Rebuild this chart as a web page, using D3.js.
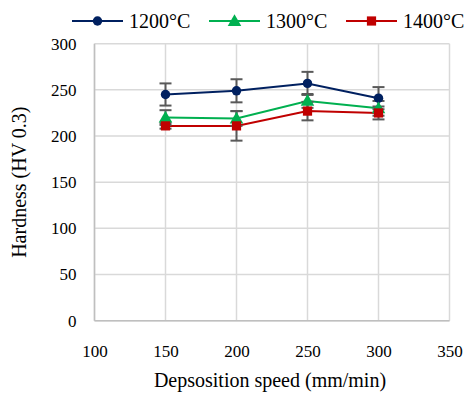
<!DOCTYPE html>
<html><head><meta charset="utf-8">
<script src="https://cdn.jsdelivr.net/npm/d3@7"></script>
<style>body{margin:0;background:#fff}svg{display:block}svg text{font-family:'Liberation Serif','Times New Roman',serif}</style>
</head><body>
<svg id="c" width="467" height="394"></svg>
<script>
const speeds = [150, 200, 250, 300];
const seriesNames = ["1200°C", "1300°C", "1400°C"];
const hv1200 = [245, 249, 257, 241];
const err1200 = [12, 12.5, 12.5, 12];
const hv1300 = [220, 219, 238, 230];
const err1300 = [8, 8, 7.5, 8];
const hv1400 = [211, 211, 227, 225];
const err1400 = [3, 16, 10, 7];
const xTicks = [100, 150, 200, 250, 300, 350];
const yTicks = [0, 50, 100, 150, 200, 250, 300];

const colors = ["#002060", "#00B050", "#C00000"];
const shapes = [d3.symbolCircle, d3.symbolTriangle, d3.symbolSquare];
const sizes = [70, 80, 85];
const series = [
  {name: seriesNames[0], v: hv1200, e: err1200},
  {name: seriesNames[1], v: hv1300, e: err1300},
  {name: seriesNames[2], v: hv1400, e: err1400}
];

const svg = d3.select("#c");
const font = "'Liberation Serif','Times New Roman',serif";
const x = d3.scaleLinear().domain([100, 350]).range([94.5, 449.5]);
const y = d3.scaleLinear().domain([0, 300]).range([320.7, 43.7]);

// gridlines
svg.append("g").selectAll("line").data(yTicks).join("line")
  .attr("x1", x(100)).attr("x2", x(350)).attr("y1", d => y(d)).attr("y2", d => y(d))
  .attr("stroke", "#d9d9d9").attr("stroke-width", 1.5);
svg.append("g").selectAll("line").data(xTicks).join("line")
  .attr("y1", y(0)).attr("y2", y(300)).attr("x1", d => x(d)).attr("x2", d => x(d))
  .attr("stroke", "#d9d9d9").attr("stroke-width", 1.5);
// axis lines
svg.append("line").attr("x1", x(100)).attr("x2", x(350)).attr("y1", y(0)).attr("y2", y(0))
  .attr("stroke", "#bfbfbf").attr("stroke-width", 1.5);
svg.append("line").attr("x1", x(100)).attr("x2", x(100)).attr("y1", y(0)).attr("y2", y(300))
  .attr("stroke", "#bfbfbf").attr("stroke-width", 1.5);

// axes (labels only)
const xAxis = svg.append("g").attr("transform", `translate(0,${y(0)})`)
  .call(d3.axisBottom(x).tickValues(xTicks).tickSize(0).tickPadding(24));
xAxis.attr("font-family", null).attr("font-size", null);
xAxis.select(".domain").remove();
xAxis.selectAll("text").style("font-family", font).style("font-size", "17px").attr("fill", "#000");
const yAxis = svg.append("g").attr("transform", `translate(${x(100)},0)`)
  .call(d3.axisLeft(y).tickValues(yTicks).tickSize(0).tickPadding(18));
yAxis.attr("font-family", null).attr("font-size", null);
yAxis.select(".domain").remove();
yAxis.selectAll("text").style("font-family", font).style("font-size", "17px").attr("fill", "#000");

// titles
svg.append("text").attr("x", 270).attr("y", 387).attr("text-anchor", "middle")
  .style("font-family", font).style("font-size", "20px").text("Depsosition speed (mm/min)");
svg.append("text").attr("transform", `translate(26,${y(150)}) rotate(-90)`).attr("text-anchor", "middle")
  .style("font-family", font).style("font-size", "20px").text("Hardness (HV 0.3)");

const line = d3.line().x((d, i) => x(speeds[i])).y(d => y(d));
series.forEach((s, k) => {
  svg.append("path").attr("d", line(s.v)).attr("fill", "none")
    .attr("stroke", colors[k]).attr("stroke-width", 2);
});
// error bars
series.forEach((s, k) => {
  const g = svg.append("g").attr("stroke", "#595959").attr("stroke-width", 2);
  s.v.forEach((v, i) => {
    const cx = x(speeds[i]);
    g.append("line").attr("x1", cx).attr("x2", cx).attr("y1", y(v - s.e[i])).attr("y2", y(v + s.e[i]));
    [v - s.e[i], v + s.e[i]].forEach(t => {
      g.append("line").attr("x1", cx - 6).attr("x2", cx + 6).attr("y1", y(t)).attr("y2", y(t));
    });
  });
});
// markers
series.forEach((s, k) => {
  svg.append("g").selectAll("path").data(s.v).join("path")
    .attr("d", d3.symbol().type(shapes[k]).size(sizes[k]))
    .attr("transform", (d, i) => `translate(${x(speeds[i])},${y(d) + (k === 1 ? 1 : 0)})`)
    .attr("fill", colors[k]);
});

// legend
const legX = [72, 209, 346];
series.forEach((s, k) => {
  const g = svg.append("g").attr("transform", `translate(${legX[k]},21)`);
  g.append("line").attr("x1", 0).attr("x2", 51).attr("stroke", colors[k]).attr("stroke-width", 2);
  g.append("path").attr("d", d3.symbol().type(shapes[k]).size(sizes[k])())
    .attr("transform", `translate(25.5,${k === 1 ? 1 : 0})`).attr("fill", colors[k]);
  g.append("text").attr("x", 57).attr("y", 7).style("font-family", font).style("font-size", "20px")
    .text(s.name);
});
</script>
</body></html>
